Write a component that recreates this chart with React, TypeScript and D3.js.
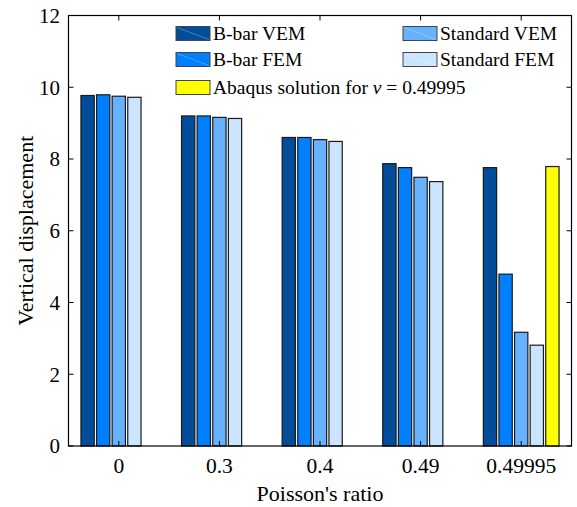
import React from "react";
import * as d3 from "d3";

const categories = ["0", "0.3", "0.4", "0.49", "0.49995"];
const seriesNames = ["B-bar VEM", "B-bar FEM", "Standard VEM", "Standard FEM", "Abaqus"];
const bBarVEM = [9.77, 9.2, 8.6, 7.87, 7.76];
const bBarFEM = [9.79, 9.2, 8.6, 7.76, 4.79];
const standardVEM = [9.75, 9.16, 8.54, 7.49, 3.17];
const standardFEM = [9.72, 9.13, 8.49, 7.37, 2.81];
const abaqus = [null, null, null, null, 7.79];
const yTicks = [0, 2, 4, 6, 8, 10, 12];
const colors = ["#024c9a", "#0080ff", "#66b2ff", "#cce5ff", "#ffff00"];

const W = 577;
const H = 507;
const left = 68.5;
const right = 571.5;
const top = 15.5;
const bottom = 446;
const FONT = "'Liberation Serif', 'Times New Roman', serif";

export default function App() {
  const series = [bBarVEM, bBarFEM, standardVEM, standardFEM, abaqus];
  const x = d3.scaleBand<string>().domain(categories).range([left, right]).padding(0);
  const y = d3.scaleLinear().domain([0, 12]).range([bottom, top]);
  const slot = 15.6;
  const barW = 13.3;

  const bars: React.ReactNode[] = [];
  series.forEach((vals, si) => {
    vals.forEach((v, ci) => {
      if (v == null) return;
      const cx = (x(categories[ci]) as number) + x.bandwidth() / 2 + (si - 2) * slot;
      bars.push(
        <rect
          key={`${si}-${ci}`}
          x={cx - barW / 2}
          y={y(v)}
          width={barW}
          height={y(0) - y(v)}
          fill={colors[si]}
          stroke="#1a1a1a"
          strokeWidth={1.2}
        />
      );
    });
  });

  const legendItems = [
    { name: "B-bar VEM", color: colors[0], x: 176, y: 26.5 },
    { name: "B-bar FEM", color: colors[1], x: 176, y: 52.5 },
    { name: "Standard VEM", color: colors[2], x: 403, y: 26.5 },
    { name: "Standard FEM", color: colors[3], x: 403, y: 52.5 },
    { name: "Abaqus", color: colors[4], x: 176, y: 80.5 },
  ];

  return (
    <svg
      width={W}
      height={H}
      style={{ position: "absolute", left: 0, top: 0, background: "#fff" }}
      fontFamily={FONT}
    >
      {bars}
      {/* axes box */}
      <rect x={left} y={top} width={right - left} height={bottom - top} fill="none" stroke="#000" strokeWidth={1.2} />
      {yTicks.map((t) => (
        <g key={t}>
          <line x1={left} x2={left + 5} y1={y(t)} y2={y(t)} stroke="#000" strokeWidth={1} />
          <line x1={right} x2={right - 5} y1={y(t)} y2={y(t)} stroke="#000" strokeWidth={1} />
          <text x={60} y={y(t)} dy="0.35em" textAnchor="end" fontSize={21}>
            {t}
          </text>
        </g>
      ))}
      {categories.map((c) => {
        const cx = (x(c) as number) + x.bandwidth() / 2;
        return (
          <g key={c}>
            <line x1={cx} x2={cx} y1={bottom} y2={bottom - 5} stroke="#000" strokeWidth={1} />
            <line x1={cx} x2={cx} y1={top} y2={top + 5} stroke="#000" strokeWidth={1} />
            <text x={cx} y={473} textAnchor="middle" fontSize={21.5}>
              {c}
            </text>
          </g>
        );
      })}
      <text x={(left + right) / 2} y={501} textAnchor="middle" fontSize={22}>
        Poisson's ratio
      </text>
      <text transform={`translate(33,${(top + bottom) / 2}) rotate(-90)`} textAnchor="middle" fontSize={22}>
        Vertical displacement
      </text>
      {/* legend */}
      {legendItems.map((it) => (
        <g key={it.name}>
          <rect x={it.x} y={it.y} width={34} height={14} fill={it.color} stroke="#444" strokeWidth={1} />
          <line x1={it.x + 1} y1={it.y + 1} x2={it.x + 33} y2={it.y + 13} stroke="#fff" strokeOpacity={0.35} strokeWidth={0.8} />
          <text x={it.x + 37} y={it.y + 7} dy="0.35em" fontSize={19.5}>
            {it.name === "Abaqus" ? (
              <>
                Abaqus solution for <tspan fontStyle="italic">ν</tspan> = 0.49995
              </>
            ) : (
              it.name
            )}
          </text>
        </g>
      ))}
    </svg>
  );
}
